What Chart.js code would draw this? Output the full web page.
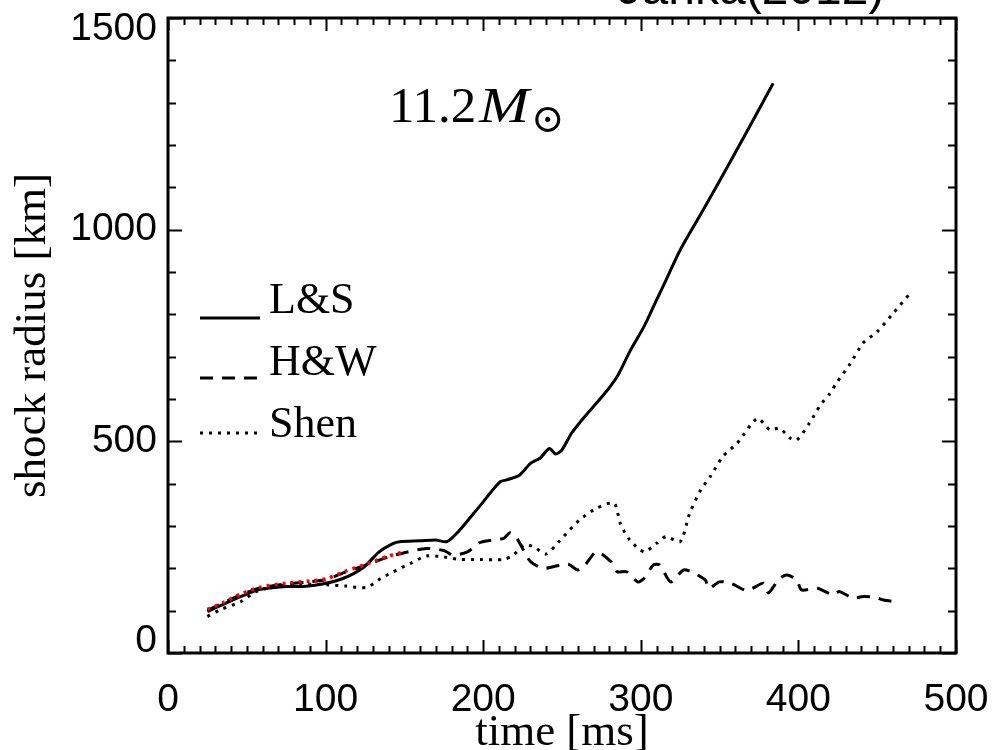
<!DOCTYPE html>
<html>
<head>
<meta charset="utf-8">
<script src="https://cdn.jsdelivr.net/npm/chart.js@4/dist/chart.umd.min.js"></script>
<style>
  html, body { margin: 0; padding: 0; background: #ffffff; }
  #wrap { width: 994px; height: 750px; }
</style>
</head>
<body>
<div id="wrap"><canvas id="c" width="994" height="750"></canvas></div>
<script>
// ---- data ----
const lsTime   = [25, 35, 46, 58, 75, 86, 98, 111, 124, 134, 143, 147, 160, 170, 177, 185, 194, 200, 206, 211, 215, 223, 230, 236, 242, 246, 250, 256, 261, 269, 278, 285, 293, 302, 308, 316, 325, 337, 348, 369, 384];
const lsRadius = [98, 115, 133, 150, 157, 157, 163, 176, 202, 239, 259, 263, 265, 267, 263, 290, 330, 357, 385, 405, 409, 420, 448, 460, 483, 470, 480, 519, 543, 578, 617, 653, 712, 771, 818, 881, 952, 1030, 1102, 1243, 1346];

const hwTime   = [25, 46, 58, 75, 90, 101, 113, 126, 139, 150, 164, 175, 181, 190, 198, 206, 213, 217, 221, 226, 230, 238, 249, 254, 260, 264, 272, 281, 285, 291, 298, 302, 308, 312, 319, 327, 333, 341, 343, 350, 357, 367, 371, 378, 381, 388, 393, 399, 402, 412, 422, 426, 435, 440, 448, 454, 462];
const hwRadius = [101, 137, 153, 163, 168, 174, 192, 208, 226, 237, 247, 242, 231, 239, 261, 267, 271, 284, 273, 240, 216, 200, 208, 210, 196, 205, 239, 216, 192, 192, 168, 176, 208, 208, 168, 196, 190, 172, 153, 168, 165, 147, 153, 165, 142, 176, 184, 172, 149, 153, 137, 145, 129, 133, 132, 125, 121];

const shenTime   = [25, 33, 46, 56, 69, 84, 101, 113, 126, 135, 143, 154, 164, 175, 185, 198, 213, 219, 226, 232, 240, 248, 251, 261, 272, 283, 287, 293, 302, 310, 316, 325, 331, 338, 344, 352, 361, 374, 382, 388, 395, 399, 407, 414, 420, 424, 433, 441, 450, 460, 471];
const shenRadius = [86, 102, 121, 145, 158, 163, 161, 158, 155, 176, 192, 212, 229, 227, 221, 221, 221, 231, 255, 251, 234, 263, 275, 314, 342, 354, 306, 267, 239, 259, 275, 263, 330, 385, 416, 464, 495, 554, 527, 531, 507, 503, 543, 586, 613, 637, 684, 732, 759, 802, 850];

const redTime   = [25, 35, 46, 58, 75, 90, 101, 113, 126, 139, 150];
const redRadius = [103, 119, 139, 155, 165, 170, 176, 194, 210, 228, 239];

const xTickLabels = [0, 100, 200, 300, 400, 500];
const yTickLabels = [0, 500, 1000, 1500];
const legendLabels = ['L&S', 'H&W', 'Shen'];
const annotationText = ['11.2', 'M', '\u2299'];
const topTitle = 'Janka(2012)';
const xTitle = 'time [ms]';
const yTitle = 'shock radius [km]';

function pts(t, r) { return t.map((v, i) => ({ x: v, y: r[i] })); }

const SERIF = '"Liberation Serif", "Times New Roman", Times, serif';
const SANS = '"Liberation Sans", Arial, Helvetica, sans-serif';

// frame, inward ticks, legend and annotations
const decor = {
  id: 'decor',
  afterDraw(chart) {
    const ctx = chart.ctx;
    const a = chart.chartArea;
    const xs = chart.scales.x, ys = chart.scales.y;
    ctx.save();
    ctx.strokeStyle = '#000';
    ctx.lineCap = 'butt';
    // minor / major ticks
    ctx.lineWidth = 2;
    ctx.beginPath();
    for (let v = 0; v <= 500; v += 10) {
      const px = Math.round(xs.getPixelForValue(v)) + 0.5;
      const len = (v % 100 === 0) ? 13 : 7;
      ctx.moveTo(px, a.bottom); ctx.lineTo(px, a.bottom - len);
      ctx.moveTo(px, a.top); ctx.lineTo(px, a.top + len);
    }
    for (let v = 0; v <= 1500; v += 100) {
      const py = Math.round(ys.getPixelForValue(v)) + 0.5;
      const len = (v % 500 === 0) ? 14 : 8;
      ctx.moveTo(a.left, py); ctx.lineTo(a.left + len, py);
      ctx.moveTo(a.right, py); ctx.lineTo(a.right - len, py);
    }
    ctx.stroke();
    // frame
    ctx.lineWidth = 3;
    ctx.strokeRect(a.left, a.top, a.right - a.left, a.bottom - a.top);

    // legend
    const lx0 = a.left + 32, lx1 = a.left + 92, tx = a.left + 101;
    const rows = [
      { y: 318, base: 313, dash: [], w: 3 },
      { y: 378, base: 375, dash: [13, 9], w: 3 },
      { y: 433, base: 437, dash: [3, 6], w: 3 }
    ];
    ctx.font = '44px ' + SERIF;
    ctx.fillStyle = '#000';
    ctx.textBaseline = 'alphabetic';
    ctx.textAlign = 'left';
    rows.forEach((r, i) => {
      ctx.beginPath();
      ctx.setLineDash(r.dash);
      ctx.lineWidth = r.w;
      ctx.moveTo(lx0, r.y); ctx.lineTo(lx1, r.y);
      ctx.stroke();
      ctx.setLineDash([]);
      ctx.fillText(legendLabels[i], tx, r.base);
    });

    // mass annotation 11.2 M_sun
    const ab = 122;
    ctx.font = '51px ' + SERIF;
    ctx.fillText(annotationText[0], 389, ab);
    ctx.save();
    ctx.translate(479, ab);
    ctx.scale(1.18, 1);
    ctx.font = 'italic 51px ' + SERIF;
    ctx.fillText(annotationText[1], 0, 0);
    ctx.restore();
    ctx.font = '40px "DejaVu Serif", "DejaVu Sans", serif';
    ctx.fillText(annotationText[2], 531, ab + 10);

    // cut-off top title
    ctx.font = '48px ' + SANS;
    ctx.textAlign = 'center';
    ctx.fillText(topTitle, 751, 4);
    ctx.restore();
  }
};

new Chart(document.getElementById('c'), {
  type: 'line',
  data: {
    datasets: [
      { label: 'red', data: pts(redTime, redRadius), borderColor: '#ff0000', borderWidth: 3.5, borderDash: [3, 5], pointRadius: 0, tension: 0.25, order: 0 },
      { label: legendLabels[0], data: pts(lsTime, lsRadius), borderColor: '#000', borderWidth: 3, pointRadius: 0, tension: 0.25, order: 1 },
      { label: legendLabels[1], data: pts(hwTime, hwRadius), borderColor: '#000', borderWidth: 3, borderDash: [13, 9], pointRadius: 0, tension: 0.25, order: 2 },
      { label: legendLabels[2], data: pts(shenTime, shenRadius), borderColor: '#000', borderWidth: 3, borderDash: [3, 6], pointRadius: 0, tension: 0.25, order: 3 }
    ]
  },
  options: {
    responsive: false,
    animation: false,
    devicePixelRatio: 1,
    layout: { padding: { top: 18, right: 38, left: 0, bottom: 0 } },
    plugins: { legend: { display: false }, tooltip: { enabled: false }, title: { display: false } },
    scales: {
      x: {
        type: 'linear', min: 0, max: 500,
        grid: { display: false, drawTicks: false },
        border: { display: false },
        afterBuildTicks: s => { s.ticks = xTickLabels.map(v => ({ value: v })); },
        afterFit: s => { s.height = 97; s.paddingLeft = 0; s.paddingRight = 0; },
        ticks: { color: '#000', padding: 24, maxRotation: 0, autoSkip: false, callback: v => String(v), font: { family: SANS, size: 39 } },
        title: { display: true, text: xTitle, color: '#000', padding: { top: 0, bottom: -10 }, font: { family: SERIF, size: 45 } }
      },
      y: {
        type: 'linear', min: 0, max: 1500,
        grid: { display: false, drawTicks: false },
        border: { display: false },
        afterBuildTicks: s => { s.ticks = yTickLabels.map(v => ({ value: v })); },
        afterFit: s => { s.width = 168; s.paddingTop = 0; s.paddingBottom = 0; },
        ticks: {
          color: '#000', padding: 11, autoSkip: false,
          // end labels sit inside the axis span, as in the reference
          callback: v => (v === 1500 ? ['', String(v)] : (v === 0 ? [String(v), ''] : String(v))),
          font: { family: SANS, size: 39, lineHeight: 0.6 }
        },
        title: { display: true, text: yTitle, color: '#000', padding: { top: 6, bottom: 0 }, font: { family: SERIF, size: 45 } }
      }
    }
  },
  plugins: [decor]
});
</script>
</body>
</html>
